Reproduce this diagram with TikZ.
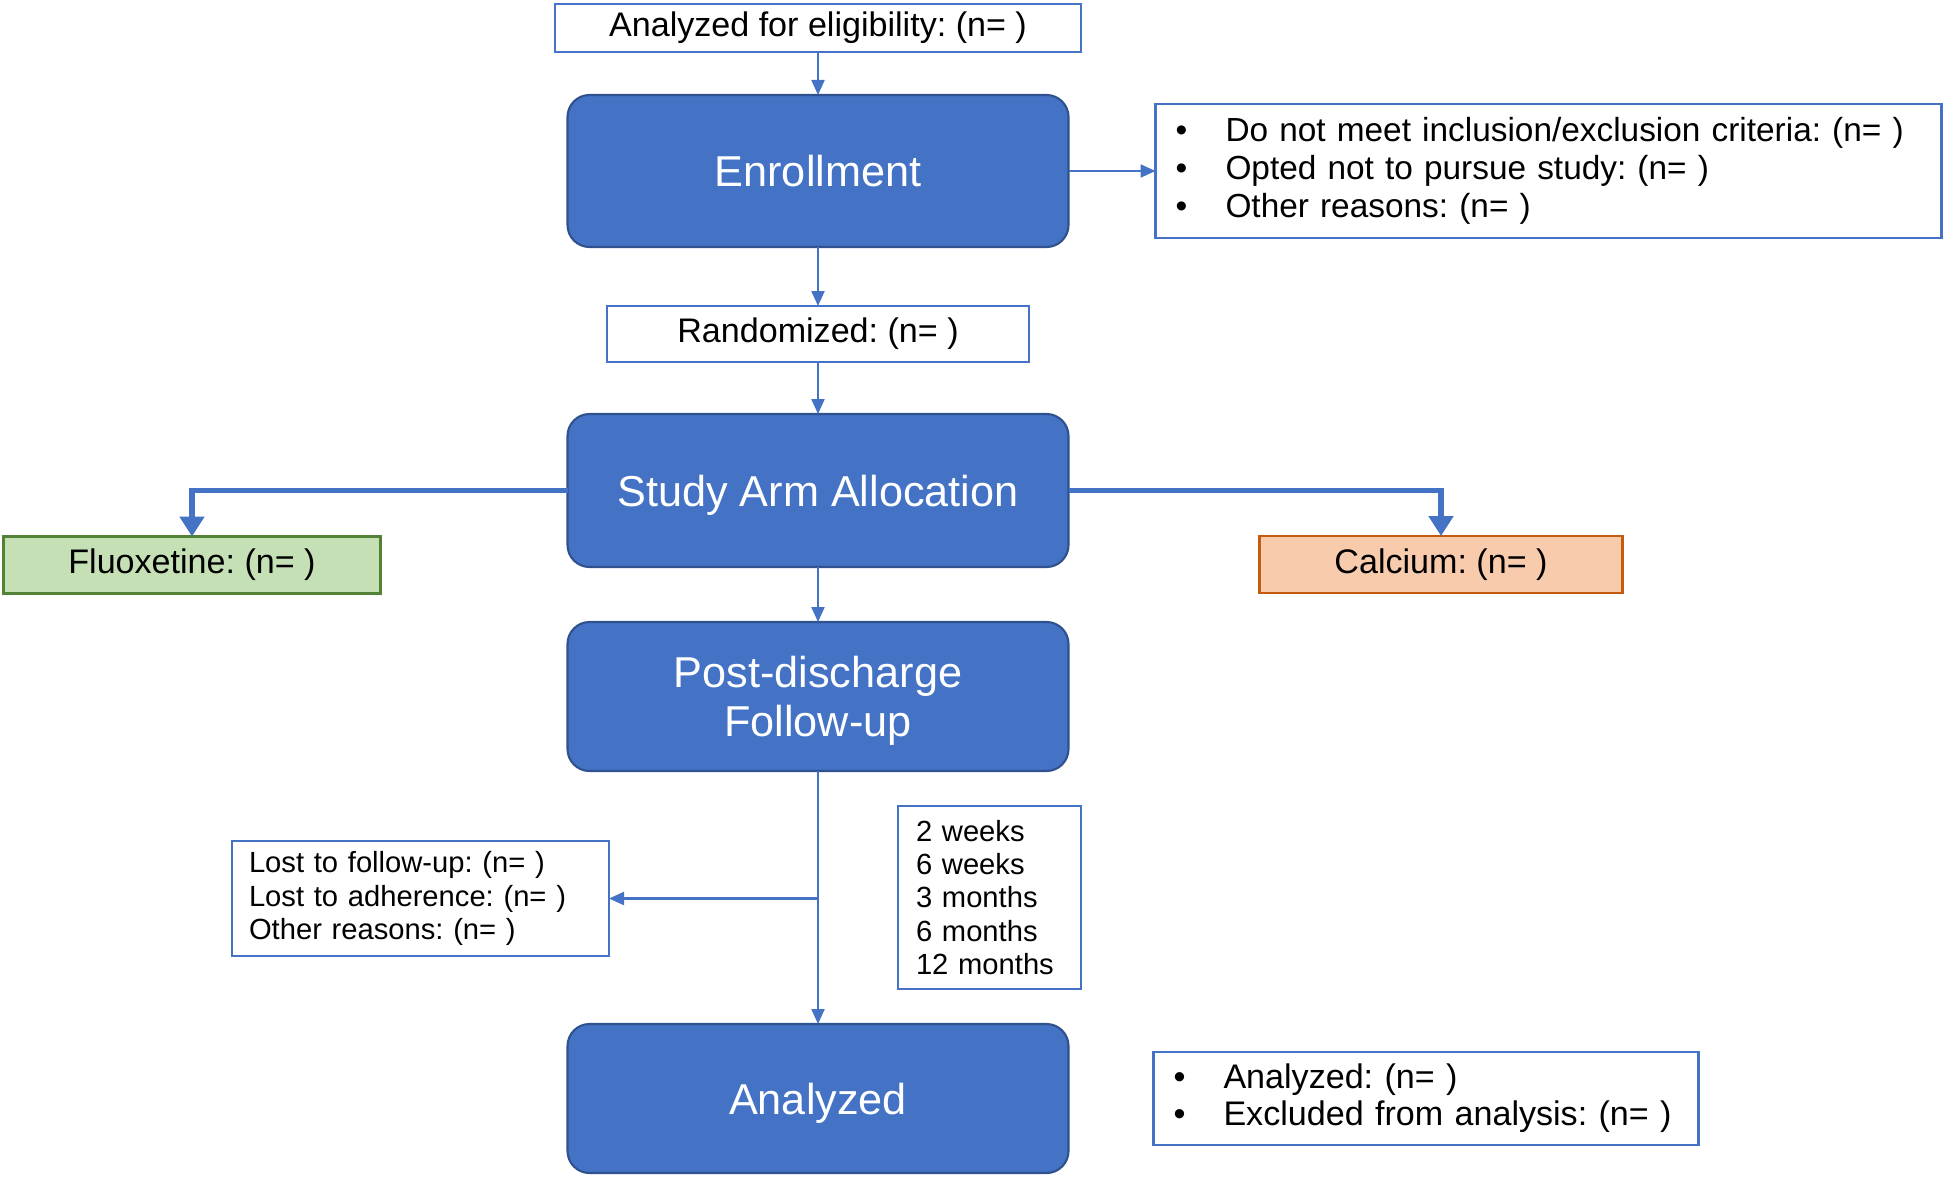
\documentclass[tikz,border=0pt]{standalone}
\usepackage{fontspec}
\setmainfont{Liberation Sans}
\usetikzlibrary{positioning,arrows.meta}
\definecolor{ppblue}{HTML}{4472C4}
\definecolor{ppdark}{HTML}{2F528F}
\definecolor{ppgreen}{HTML}{C5E0B4}
\definecolor{ppgreenb}{HTML}{548235}
\definecolor{pporange}{HTML}{F8CBAD}
\definecolor{pporangeb}{HTML}{C55A11}
\newcommand{\bul}{\makebox[0.5cm][l]{\textbullet}}
\frenchspacing
\begin{document}
\begin{tikzpicture}
% flow of the study, one blue block per phase
\tikzstyle{phase} = [rectangle, rounded corners=0.22cm, minimum width=5.01cm, minimum height=1.5cm, inner ysep=0.05cm, outer sep=0pt, text depth=0pt, text centered, draw=ppdark, line width=0.6pt, fill=ppblue, text=white, font=\fontsize{12.3}{14.1}\selectfont]
\tikzstyle{whitebox} = [rectangle, draw=ppblue, line width=0.6pt, fill=white, text=black, inner ysep=0.03cm, outer sep=0pt, font=\fontsize{9.7}{10.9}\selectfont]
\tikzstyle{smallbox} = [whitebox, align=left, font=\fontsize{8.3}{9.45}\selectfont]
\tikzstyle{armbox} = [rectangle, minimum width=3.7cm, minimum height=0.57cm, inner ysep=0.03cm, outer sep=0pt, line width=0.6pt, font=\fontsize{9.7}{10.9}\selectfont]
\tikzstyle{thin} = [ppblue, line width=0.6pt, -{Triangle[width=0.13cm,length=0.15cm]}]
\tikzstyle{thick} = [ppblue, line width=1.6pt, -{Triangle[width=0.24cm,length=0.2cm]}]
\useasboundingbox (0,0) rectangle (19.44,-11.78);
\node (elig) [whitebox, minimum width=5.26cm, minimum height=0.48cm] at (8.18,-0.28) {Analyzed for eligibility: (n= )};
\node (enr) [phase, minimum height=1.52cm, below=0.43cm of elig] {Enrollment};
\node (excl) [whitebox, right=0.87cm of enr, minimum height=1.34cm, inner xsep=0.2cm, text width=7.46cm, align=left, font=\fontsize{9.5}{10.9}\selectfont] {\bul Do not meet inclusion/exclusion criteria: (n= )\\ \bul Opted not to pursue study: (n= )\\ \bul Other reasons: (n= )};
\node (rand) [whitebox, minimum width=4.22cm, minimum height=0.56cm, below=0.59cm of enr] {Randomized: (n= )};
\node (alloc) [phase, minimum height=1.53cm, below=0.52cm of rand] {Study Arm Allocation};
\node (fluox) [armbox, draw=ppgreenb, fill=ppgreen, minimum width=3.77cm] at (1.92,-5.65) {Fluoxetine: (n= )};
\node (calc) [armbox, draw=pporangeb, fill=pporange, minimum width=3.63cm] at (14.41,-5.645) {Calcium: (n= )};
\node (post) [phase, minimum height=1.49cm, below=0.55cm of alloc, align=center] {Post-discharge\\Follow-up};
\node (lost) [smallbox, minimum width=3.77cm, minimum height=1.15cm, inner xsep=0.17cm, text width=3.43cm] at (4.205,-8.985) {Lost to follow-up: (n= )\\Lost to adherence: (n= )\\Other reasons: (n= )};
\node (times) [smallbox, minimum width=1.83cm, minimum height=1.83cm, inner xsep=0.18cm, text width=1.47cm] at (9.895,-8.975) {2 weeks\\6 weeks\\3 months\\6 months\\12 months};
\node (anl) [phase, minimum height=1.49cm, below=2.53cm of post] {Analyzed};
\node (anlres) [whitebox, right=0.85cm of anl, minimum height=0.93cm, inner xsep=0.2cm, text width=5.05cm, align=left, font=\fontsize{9.7}{10.5}\selectfont] {\bul Analyzed: (n= )\\ \bul Excluded from analysis: (n= )};
\coordinate (split) at (post.south |- lost.east);
\draw [thin] (elig) -- (enr);
\draw [thin] (enr) -- (excl);
\draw [thin] (enr) -- (rand);
\draw [thin] (rand) -- (alloc);
\draw [thin] (alloc) -- (post);
\draw [thin] (post) -- (anl);
\draw [thin] (split) -- (lost);
\draw [thick] (alloc.west) -| (fluox.north);
\draw [thick] (alloc.east) -| (calc.north);
\end{tikzpicture}
\end{document}
